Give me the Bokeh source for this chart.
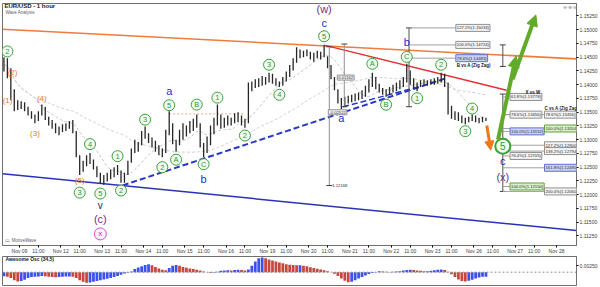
import numpy as np
import pandas as pd
from bokeh.plotting import figure
from bokeh.layouts import column
from bokeh.models import Range1d, FixedTicker, Span, Label, Arrow, NormalHead, NumeralTickFormatter
from bokeh.core.properties import value
from bokeh.embed import file_html
from bokeh.resources import INLINE

FONT = "Liberation Sans"

# ---------------------------------------------------------------- data
# 2-hour bars, x in trading hours counted from Nov 09 00:00
bar_hour = list(range(-9, 272, 2))
bar_high = [
    1.1450, 1.1448, 1.1430, 1.1392, 1.1372, 1.1370, 1.1368, 1.1360, 1.1352, 1.1346,
    1.1352, 1.1364, 1.1360, 1.1342, 1.1336, 1.1330, 1.1324, 1.1328, 1.1330, 1.1334,
    1.1336, 1.1316, 1.1272, 1.1262, 1.1272, 1.1276, 1.1264, 1.1252, 1.1240, 1.1236,
    1.1240, 1.1246, 1.1250, 1.1254, 1.1244, 1.1240, 1.1262, 1.1284, 1.1300, 1.1296,
    1.1316, 1.1324, 1.1312, 1.1304, 1.1298, 1.1290, 1.1284, 1.1318, 1.1352, 1.1330,
    1.1300, 1.1318, 1.1330, 1.1326, 1.1334, 1.1338, 1.1346, 1.1330, 1.1294, 1.1306,
    1.1326, 1.1340, 1.1364, 1.1346, 1.1340, 1.1344, 1.1340, 1.1348, 1.1350, 1.1344,
    1.1338, 1.1404, 1.1406, 1.1410, 1.1412, 1.1416, 1.1414, 1.1422, 1.1420, 1.1412,
    1.1406, 1.1414, 1.1424, 1.1436, 1.1448, 1.1468, 1.1464, 1.1462, 1.1464, 1.1460,
    1.1458, 1.1462, 1.1460, 1.1472, 1.1452, 1.1436, 1.1414, 1.1392, 1.1376, 1.1378,
    1.1380, 1.1382, 1.1384, 1.1386, 1.1390, 1.1398, 1.1410, 1.1422, 1.1414, 1.1402,
    1.1394, 1.1392, 1.1396, 1.1400, 1.1404, 1.1408, 1.1414, 1.1438, 1.1426, 1.1412,
    1.1404, 1.1408, 1.1410, 1.1408, 1.1410, 1.1412, 1.1414, 1.1422, 1.1420, 1.1404,
    1.1362, 1.1352, 1.1350, 1.1344, 1.1340, 1.1342, 1.1346, 1.1344, 1.1340, 1.1342,
    1.1340,
]
bar_low = [
    1.1424, 1.1412, 1.1372, 1.1352, 1.1354, 1.1356, 1.1352, 1.1344, 1.1338, 1.1330,
    1.1334, 1.1344, 1.1336, 1.1326, 1.1320, 1.1312, 1.1308, 1.1314, 1.1316, 1.1320,
    1.1312, 1.1268, 1.1236, 1.1242, 1.1252, 1.1256, 1.1246, 1.1232, 1.1220, 1.1218,
    1.1224, 1.1228, 1.1232, 1.1236, 1.1222, 1.1222, 1.1236, 1.1258, 1.1276, 1.1278,
    1.1290, 1.1302, 1.1294, 1.1286, 1.1278, 1.1272, 1.1268, 1.1276, 1.1308, 1.1292,
    1.1278, 1.1290, 1.1300, 1.1306, 1.1312, 1.1316, 1.1322, 1.1286, 1.1268, 1.1276,
    1.1290, 1.1310, 1.1326, 1.1320, 1.1322, 1.1326, 1.1326, 1.1330, 1.1332, 1.1326,
    1.1322, 1.1330, 1.1388, 1.1394, 1.1396, 1.1398, 1.1400, 1.1404, 1.1402, 1.1398,
    1.1396, 1.1398, 1.1406, 1.1414, 1.1426, 1.1440, 1.1448, 1.1450, 1.1452, 1.1446,
    1.1442, 1.1448, 1.1446, 1.1450, 1.1430, 1.1410, 1.1390, 1.1366, 1.1356, 1.1360,
    1.1366, 1.1368, 1.1370, 1.1372, 1.1374, 1.1378, 1.1386, 1.1396, 1.1392, 1.1386,
    1.1382, 1.1378, 1.1382, 1.1386, 1.1388, 1.1392, 1.1396, 1.1404, 1.1400, 1.1392,
    1.1388, 1.1396, 1.1398, 1.1398, 1.1400, 1.1400, 1.1402, 1.1404, 1.1396, 1.1346,
    1.1338, 1.1336, 1.1334, 1.1330, 1.1328, 1.1332, 1.1334, 1.1332, 1.1330, 1.1332,
    1.1334,
]
# Awesome Oscillator (34,5), one value per bar
ao_value = [
    -0.0015, -0.0017, -0.0022, -0.0030, -0.0035, -0.0033, -0.0028, -0.0022, -0.0018, -0.0017,
    -0.0016, -0.0014, -0.0015, -0.0017, -0.0018, -0.0019, -0.0018, -0.0017, -0.0016, -0.0016,
    -0.0017, -0.0022, -0.0030, -0.0036, -0.0040, -0.0039, -0.0036, -0.0033, -0.0030, -0.0027,
    -0.0025, -0.0022, -0.0018, -0.0014, -0.0010, -0.0005, -0.0002, 0.0003, 0.0012, 0.0018,
    0.0022, 0.0027, 0.0030, 0.0026, 0.0020, 0.0014, 0.0009, 0.0007, 0.0016, 0.0024,
    0.0027, 0.0024, 0.0020, 0.0017, 0.0014, 0.0012, 0.0009, 0.0006, 0.0003, 0.0000,
    -0.0003, -0.0002, 0.0002, 0.0005, 0.0006, 0.0007, 0.0006, 0.0008, 0.0009, 0.0008,
    0.0006, 0.0010, 0.0024, 0.0040, 0.0052, 0.0055, 0.0052, 0.0048, 0.0044, 0.0040,
    0.0036, 0.0034, 0.0030, 0.0028, 0.0027, 0.0026, 0.0026, 0.0024, 0.0022, 0.0019,
    0.0016, 0.0013, 0.0010, 0.0007, 0.0004, 0.0000, -0.0006, -0.0014, -0.0024, -0.0032,
    -0.0038, -0.0036, -0.0030, -0.0024, -0.0018, -0.0012, -0.0007, -0.0003, 0.0001, 0.0004,
    0.0003, 0.0002, 0.0001, 0.0002, 0.0003, 0.0004, 0.0006, 0.0008, 0.0009, 0.0008,
    0.0006, 0.0005, 0.0004, 0.0004, 0.0005, 0.0007, 0.0009, 0.0010, 0.0008, 0.0002,
    -0.0008, -0.0018, -0.0027, -0.0033, -0.0035, -0.0032, -0.0028, -0.0024, -0.0020, -0.0017,
    -0.0017,
]

price_ticks = [1.11250, 1.11500, 1.11750, 1.12000, 1.12250, 1.12500, 1.12750, 1.13000,
               1.13250, 1.13500, 1.13750, 1.14000, 1.14250, 1.14500, 1.14750, 1.15000, 1.15250]
ao_ticks = [0.00250]
day_names = ["Nov 09", "Nov 12", "Nov 13", "Nov 14", "Nov 15", "Nov 16", "Nov 19",
             "Nov 20", "Nov 21", "Nov 22", "Nov 23", "Nov 26", "Nov 27", "Nov 28"]
day_hours = [0, 24, 48, 72, 96, 120, 144, 168, 192, 216, 240, 264, 288, 312]
mid_hours = [11, 35, 59, 83, 107, 131, 155, 179, 203, 227, 251, 275, 299]

# analyst trend lines: (hour0, price0, hour1, price1)
resistance_line = (-9.84, 1.1501, 323.6, 1.1447)
wave_c_line = (177.0, 1.1472, 283.0, 1.1390)
support_line = (60.0, 1.1217, 247.0, 1.1411)
support_line_2 = (188.0, 1.1360, 232.0, 1.1396)
channel_base = (-9.84, 1.1238, 323.6, 1.1135)

# Fibonacci levels: (ratio, price, box colour)
fib_b = [("127.2%", 1.15033, "grey"), ("100.0%", 1.14724, "grey"), ("78.6%", 1.14483, "blue")]
fib_xw = [("61.8%", 1.13778, "grey"), ("78.6%", 1.13456, "grey"), ("100.0%", 1.13152, "blue"),
          ("76.4%", 1.12705, "grey"), ("100.0%", 1.12150, "green")]
fib_ca = [("78.6%", 1.13456, "grey"), ("100.0%", 1.13204, "green"), ("127.2%", 1.12900, "grey"),
          ("138.2%", 1.12794, "grey"), ("161.8%", 1.12490, "blue"), ("200.0%", 1.12060, "grey")]
target_hour = 280.8
target_5_price = 1.12883

# wave labels tied to bars: (text, style, bar index, side, offset in px)
wave_labels = [
    ("2", "g", 1, "high", 7), ("3", "g", 22, "low", 18), ("4", "g", 25, "high", 9),
    ("5", "g", 28, "low", 10), ("1", "g", 33, "high", 9), ("2", "g", 34, "low", 8),
    ("3", "g", 41, "high", 7), ("2", "g", 46, "low", 10), ("5", "g", 48, "high", 6),
    ("A", "g", 50, "low", 8), ("B", "g", 56, "high", 10), ("C", "g", 58, "low", 7),
    ("1", "g", 62, "high", 7), ("2", "g", 70, "low", 8), ("3", "g", 77, "high", 8),
    ("4", "g", 80, "low", 8), ("5", "g", 93, "high", 9), ("A", "g", 107, "high", 9),
    ("B", "g", 111, "low", 8), ("C", "g", 117, "high", 7), ("1", "g", 120, "low", 7),
    ("2", "g", 127, "high", 8), ("3", "g", 134, "low", 7), ("4", "g", 136, "high", 6),
    ("(4)", "o", 11, "high", 6), ("(3)", "o", 9, "low", 10), ("(5)", "o", 22, "low", 6),
    ("a", "b", 48, "high", 20), ("b", "b", 58, "low", 22), ("c", "b", 93, "high", 23),
    ("a", "b", 98, "low", 9), ("b", "b", 117, "high", 22),
    ("v", "n", 28, "low", 22), ("(c)", "p", 28, "low", 36), ("(w)", "p", 93, "high", 37),
    ("x", "x", 28, "low", 51),
]
# free-standing labels: (text, style, hour, price)
free_labels = [
    ("(2)", "o", -4.0, 1.1422), ("(1)", "o", -6.9, 1.1372),
    ("5", "G", target_hour, target_5_price), ("c", "b", target_hour, 1.12615),
    ("(x)", "p", target_hour, 1.12329),
]

# ---------------------------------------------------------------- geometry
X0, X1 = -9.84, 323.6
Y0, Y1 = 1.11077, 1.15477
FRAME_W, FRAME_H = 576, 246
PY = (Y1 - Y0) / FRAME_H      # price per screen pixel
PX = (X1 - X0) / FRAME_W      # hours per screen pixel

p = figure(width=600, height=256, x_range=Range1d(X0, X1), y_range=Range1d(Y0, Y1),
           output_backend="svg", toolbar_location=None, y_axis_location="right",
           min_border_left=2, min_border_right=22, min_border_top=3, min_border_bottom=7,
           background_fill_color="white", border_fill_color="white")
p.grid.visible = False
p.outline_line_color = "#707070"

ya = p.yaxis[0]
ya.ticker = FixedTicker(ticks=price_ticks)
ya.formatter = NumeralTickFormatter(format="0.00000")
ya.major_label_text_font_size = "5px"
ya.major_label_text_font = FONT
ya.major_label_text_color = "#404040"
ya.major_tick_out = 2
ya.major_tick_in = 0
ya.minor_tick_line_color = None
ya.major_label_standoff = 1
ya.axis_line_color = "#707070"

xa = p.xaxis[0]
xa.ticker = FixedTicker(ticks=day_hours + mid_hours)
overrides = {h: n for h, n in zip(day_hours, day_names)}
overrides.update({h: "11:00" for h in mid_hours})
xa.major_label_overrides = overrides
xa.major_label_text_font_size = "5px"
xa.major_label_text_font = FONT
xa.major_label_text_color = "#404040"
xa.major_tick_out = 2
xa.major_tick_in = 0
xa.minor_tick_line_color = None
xa.major_label_standoff = 0
xa.axis_line_color = "#707070"

# faint moving averages
mid = (np.array(bar_high) + np.array(bar_low)) / 2
for win, col in ((10, "#c8c8c8"), (36, "#d0d0d0")):
    ma = pd.Series(mid).rolling(win, min_periods=1).mean()
    p.line(bar_hour, ma, line_color=col, line_width=1, line_dash="3 2")

# trend lines
def seg(line, **kw):
    p.line([line[0], line[2]], [line[1], line[3]], **kw)

seg(resistance_line, line_color="#f07c3c", line_width=1.6)
seg(channel_base, line_color="#2a32b8", line_width=1.5)
seg(wave_c_line, line_color="#e03030", line_width=1.5)
seg(support_line, line_color="#2838c8", line_width=2, line_dash="6 3")
seg(support_line_2, line_color="#2838c8", line_width=1.5, line_dash="6 3")

# salmon reference line at the wave B high
p.line([bar_hour[48], bar_hour[70]], [1.1347, 1.1347],
       line_color="#f0a090", line_width=1, line_dash="2 2")

# price bars
p.segment(x0=bar_hour, y0=bar_low, x1=bar_hour, y1=bar_high, line_color="#262626", line_width=1.3)

# measurement verticals
def vmeasure(h, top, bottom, colr="#909090"):
    p.line([h, h], [top, bottom], line_color=colr, line_width=1)
    for y in (top, bottom):
        p.line([h - 3 * PX, h + 3 * PX], [y, y], line_color="#404040", line_width=1)

vmeasure(180.0, 1.1469, 1.12168)
vmeasure(188.7, 1.1474, 1.1360)
vmeasure(226.3, 1.15033, 1.1360, colr="#505050")
vmeasure(target_hour, 1.14724, 1.14333, colr="#505050")
vmeasure(target_hour, 1.13830, 1.12060, colr="#505050")

small_lbl = dict(text_font_size="4.2px", text_font=FONT, text_baseline="middle",
                 text_color="#303030", padding=1)
p.add_layout(Label(x=180.0 + 2 * PX, y=1.12168, text="1.12168", **small_lbl))
p.add_layout(Label(x=180.0 - 1 * PX, y=1.1350, text="-0.02522", background_fill_color="#f4f4f4",
                   border_line_color="#909090", **small_lbl))
p.add_layout(Label(x=188.7 - 7 * PX, y=1.1413, text="0.01162", background_fill_color="#f4f4f4",
                   border_line_color="#909090", **small_lbl))

box_style = {"grey": ("#f2f2f2", "#909090"), "blue": ("#c8d0f8", "#6070d0"),
             "green": ("#d8f0c8", "#60a040")}

def fib_group(levels, h_from, h_box):
    for ratio, price, kind in levels:
        fill, border = box_style[kind]
        p.line([h_from, h_box], [price, price], line_color="#a0a0a0", line_width=1)
        p.add_layout(Label(x=h_box, y=price, text=f"{ratio}({price:.5f})",
                           background_fill_color=fill, border_line_color=border, **small_lbl))

fib_group(fib_b, 226.3, 253.5)
fib_group(fib_xw, target_hour, 285.0)
fib_group(fib_ca, target_hour, 305.0)
caption = dict(text_font_size="4.5px", text_font=FONT, text_font_style="bold",
               text_baseline="middle", text_color="#202020")
p.add_layout(Label(x=254.0, y=1.14350, text="B vs A (Zig Zag)", **caption))
p.add_layout(Label(x=294.0, y=1.13865, text="X vs W", **caption))
p.add_layout(Label(x=305.0, y=1.13561, text="C vs A (Zig Zag)", **caption))

# projection arrows
p.add_layout(Arrow(x_start=278.0, y_start=1.1300, x_end=288.5, y_end=1.1452,
                   line_color="#62aa2a", line_width=4,
                   end=NormalHead(size=11, fill_color="#62aa2a", line_color="#62aa2a")))
p.add_layout(Arrow(x_start=286.5, y_start=1.1410, x_end=300.0, y_end=1.1527,
                   line_color="#62aa2a", line_width=4,
                   end=NormalHead(size=11, fill_color="#62aa2a", line_color="#62aa2a")))
p.add_layout(Arrow(x_start=271.5, y_start=1.1326, x_end=273.8, y_end=1.1281,
                   line_color="#f07818", line_width=3,
                   end=NormalHead(size=9, fill_color="#f07818", line_color="#f07818")))

# wave labels
styles = {
    "g": dict(color="#2f9a2f", size="7.5px", circle=("#3aa03a", "#f2fbf2", 11, 1)),
    "G": dict(color="#2f9a2f", size="10px", circle=("#3aa03a", "#f2fbf2", 15, 2)),
    "x": dict(color="#c030c0", size="8px", circle=("#d050d0", "#fbf2fb", 12, 1)),
    "o": dict(color="#f07818", size="8px"),
    "b": dict(color="#1a30d0", size="11px"),
    "n": dict(color="#20208a", size="10px"),
    "p": dict(color="#7a2a8a", size="11px"),
}
items = []
for text, st, i, side, off in wave_labels:
    if side == "high":
        items.append((text, st, bar_hour[i], bar_high[i] + off * PY))
    else:
        items.append((text, st, bar_hour[i], bar_low[i] - off * PY))
for text, st, h, price in free_labels:
    items.append((text, st, h, price))

for text, st, h, price in items:
    s = styles[st]
    if "circle" in s:
        lc, fc, sz, lw = s["circle"]
        p.scatter([h], [price], marker="circle", size=sz, line_color=lc, fill_color=fc, line_width=lw)
    p.text([h], [price], text=[text], text_align="center", text_baseline="middle",
           text_color=s["color"], text_font_size=s["size"], text_font=value(FONT))

# title
p.add_layout(Label(x=X0 + 2 * PX, y=Y1 - 3 * PY, text="EUR/USD - 1 hour", text_font_size="6px",
                   text_font=FONT, text_font_style="bold", text_baseline="middle", text_color="#202020"))
p.add_layout(Label(x=X0 + 3 * PX, y=Y1 - 9 * PY, text="Wave Analysis", text_font_size="4.5px",
                   text_font=FONT, text_baseline="middle", text_color="#606060"))
p.add_layout(Label(x=X0 + 3 * PX, y=Y0 + 5 * PY, text="\u25ad MotiveWave", text_font_size="4.5px",
                   text_font=FONT, text_baseline="middle", text_color="#606060"))
p.add_layout(Label(x=X1 - 14 * PX, y=Y1 - 4 * PY, text="\u2296 \u2295 \u2296 \u2295", text_font_size="5px",
                   text_font=FONT, text_baseline="middle", text_color="#909090"))

# price markers on the axis
for price, fill, border in ((1.13474, "#e8e8e8", "#909090"), (1.13366, "#a8b0f8", "#5060d0"),
                            (1.13259, "#f0b0b0", "#d05050")):
    p.add_layout(Label(x=X1 + 0.6, y=price, text=f"{price:.5f}", background_fill_color=fill,
                       border_line_color=border, **small_lbl))

# ---------------------------------------------------------------- oscillator panel
q = figure(width=600, height=31, x_range=p.x_range, y_range=Range1d(-0.0050, 0.0059),
           output_backend="svg", toolbar_location=None, y_axis_location="right",
           x_axis_location=None, min_border_left=2, min_border_right=22,
           min_border_top=0, min_border_bottom=2,
           background_fill_color="white", border_fill_color="white")
q.grid.visible = False
q.outline_line_color = "#707070"
qa = q.yaxis[0]
qa.ticker = FixedTicker(ticks=ao_ticks)
qa.formatter = NumeralTickFormatter(format="0.00000")
qa.major_label_text_font_size = "5px"
qa.major_label_text_font = FONT
qa.major_label_text_color = "#404040"
qa.major_tick_out = 2
qa.major_tick_in = 0
qa.minor_tick_line_color = None
qa.major_label_standoff = 1
qa.axis_line_color = "#707070"

ao_colors = ["#3c50f0"] + ["#3c50f0" if ao_value[k] >= ao_value[k - 1] else "#c8463c"
                           for k in range(1, len(ao_value))]
q.vbar(x=bar_hour, top=ao_value, bottom=0, width=1.6, fill_color=ao_colors, line_color=None)
q.add_layout(Span(location=0, dimension="width", line_color="#909090", line_width=1, line_dash="2 2"))
q.add_layout(Label(x=X0 + 3 * PX, y=0.0048, text="Awesome Osc (34,5)", text_font_size="5px",
                   text_font=FONT, text_font_style="bold", text_baseline="middle", text_color="#202020"))
q.add_layout(Label(x=X1 + 0.6, y=ao_value[-1], text=f"{ao_value[-1]:.5f}", background_fill_color="#f2f2f2",
                   border_line_color="#909090", **small_lbl))

layout = column(p, q, spacing=0)
open("out.html", "w").write(file_html(layout, INLINE))
